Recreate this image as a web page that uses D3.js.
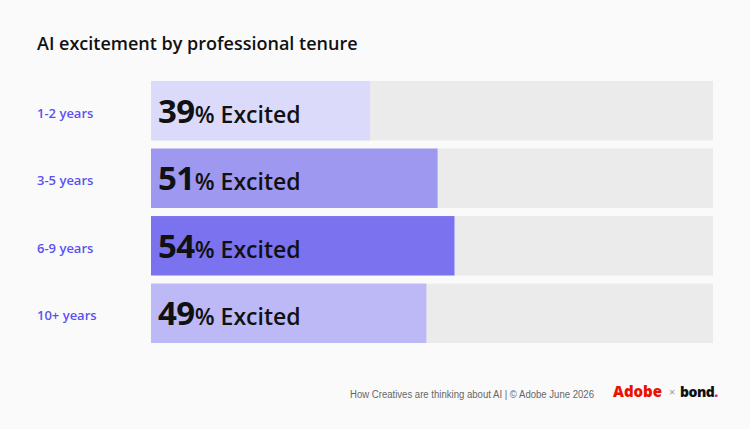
<!DOCTYPE html>
<html>
<head>
<meta charset="utf-8">
<script src="https://cdn.jsdelivr.net/npm/d3@7"></script>
<style>
  html, body { margin: 0; padding: 0; background: #fafafa; }
  text { font-family: "Open Sans", "Noto Sans", sans-serif; }
</style>
</head>
<body>
<div id="vis"></div>
<script>
const W = 750, H = 429;
const margin = { top: 81, right: 37, bottom: 86, left: 151 };

// data
const tenures = ['1-2 years', '3-5 years', '6-9 years', '10+ years'];
const excited = [39, 51, 54, 49];
const barColors = ['#dcdafb', '#9e98f1', '#7a72ee', '#bdb8f6'];

const svg = d3.select('#vis').append('svg')
    .attr('width', W)
    .attr('height', H)
    .style('display', 'block');

svg.append('rect').attr('width', W).attr('height', H).attr('fill', '#fafafa');

svg.append('text')
    .attr('x', 37).attr('y', 50)
    .style('font-size', '18px')
    .style('font-weight', 600)
    .attr('fill', '#111')
    .text('AI excitement by professional tenure');

const x = d3.scaleLinear().domain([0, 100]).range([margin.left, W - margin.right]);
const y = d3.scaleBand().domain(tenures)
    .range([margin.top, H - margin.bottom])
    .paddingInner(0.12);

const rows = svg.selectAll('.row')
    .data(tenures.map((t, i) => ({ t, v: excited[i], c: barColors[i] })))
    .join('g')
    .attr('class', 'row');

// grey track
rows.append('rect')
    .attr('x', x(0)).attr('y', d => y(d.t))
    .attr('width', x(100) - x(0)).attr('height', y.bandwidth())
    .attr('fill', '#ebebeb');

rows.append('rect')
    .attr('x', x(0)).attr('y', d => y(d.t))
    .attr('width', d => x(d.v) - x(0)).attr('height', y.bandwidth())
    .attr('fill', d => d.c);

rows.append('text')
    .attr('x', 37).attr('y', d => y(d.t) + y.bandwidth() / 2 + 7)
    .style('font-size', '13px')
    .style('font-weight', 600)
    .attr('fill', '#5a52f0')
    .text(d => d.t);

const lab = rows.append('text')
    .attr('x', x(0) + 7).attr('y', d => y(d.t) + y.bandwidth() / 2 + 12)
    .attr('fill', '#111');
lab.append('tspan')
    .style('font-size', '33px').style('font-weight', 700)
    .style('letter-spacing', '-0.5px')
    .text(d => d.v);
lab.append('tspan')
    .style('font-size', '23px').style('font-weight', 600)
    .text('% Excited');

// footer
svg.append('text')
    .attr('x', 350).attr('y', 398)
    .style('font-family', '"Liberation Sans", Arial, sans-serif')
    .style('font-size', '10px')
    .attr('textLength', 244)
    .attr('lengthAdjust', 'spacingAndGlyphs')
    .attr('fill', '#666')
    .text('How Creatives are thinking about AI | © Adobe June 2026');

svg.append('text')
    .attr('x', 613).attr('y', 397)
    .style('font-size', '15px').style('font-weight', 800)
    .attr('fill', '#eb1000')
    .text('Adobe');
svg.append('text')
    .attr('x', 669).attr('y', 396)
    .style('font-size', '11px')
    .attr('fill', '#999')
    .text('×');
const bond = svg.append('text')
    .attr('x', 680).attr('y', 397)
    .style('font-size', '14px').style('font-weight', 800)
    .style('letter-spacing', '-0.5px')
    .attr('fill', '#111');
bond.append('tspan').text('bond');
bond.append('tspan').attr('fill', '#e0208c').text('.');
</script>
</body>
</html>
